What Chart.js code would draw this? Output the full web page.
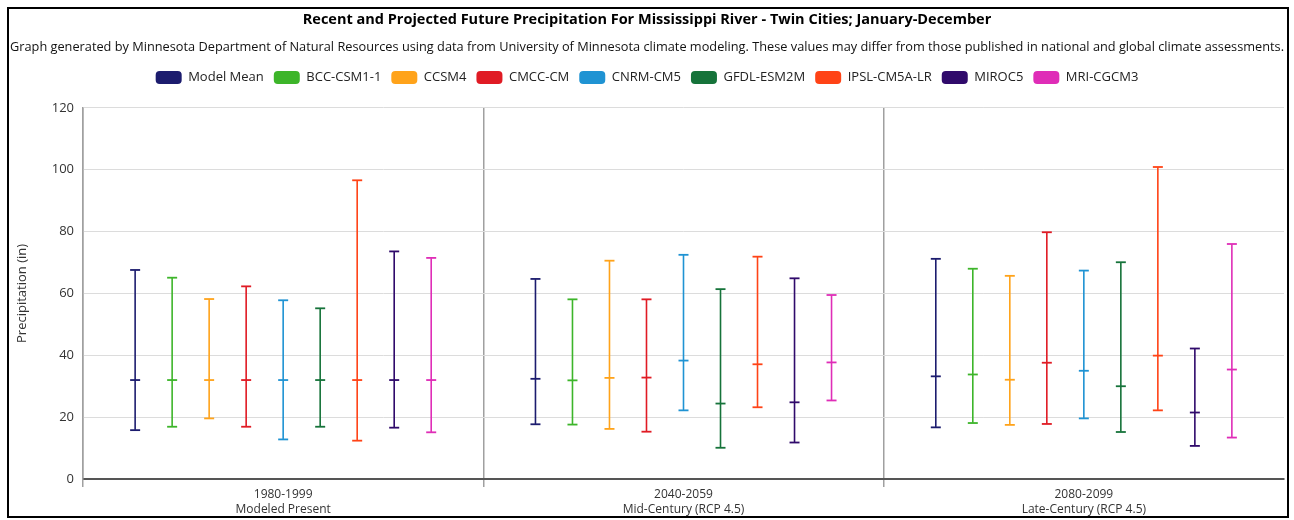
<!DOCTYPE html>
<html><head><meta charset="utf-8">
<script src="https://cdn.jsdelivr.net/npm/chart.js@4"></script>
<style>
html,body{margin:0;padding:0;background:#fff;}
#wrap{position:relative;width:1294px;height:520px;overflow:hidden;}
#frame{position:absolute;left:7px;top:7px;width:1282px;height:511px;border:2px solid #000;box-sizing:border-box;pointer-events:none;}
canvas{position:absolute;left:0;top:0;}
</style></head>
<body><div id="wrap"><canvas id="c" width="1294" height="520"></canvas><div id="frame"></div></div>
<script>
const periods = [['1980-1999','Modeled Present'],['2040-2059','Mid-Century (RCP 4.5)'],['2080-2099','Late-Century (RCP 4.5)']];
const models = ['Model Mean','BCC-CSM1-1','CCSM4','CMCC-CM','CNRM-CM5','GFDL-ESM2M','IPSL-CM5A-LR','MIROC5','MRI-CGCM3'];
const colors = ['#1c1c6e','#3db52a','#ffa31a','#e01b24','#1f93d3','#16733a','#ff4316','#300a6b','#df2db7'];
// one value per model, in the order of `models`
const low1980  = [15.8,16.9,19.6,16.9,12.8,16.9,12.4,16.6,15.1];
const mean1980 = [32.0,32.0,32.0,32.0,32.0,32.0,32.0,32.0,32.0];
const high1980 = [67.6,65.1,58.2,62.3,57.8,55.2,96.6,73.6,71.5];
const low2040  = [17.7,17.6,16.2,15.3,22.2,10.1,23.2,11.8,25.4];
const mean2040 = [32.4,31.9,32.7,32.8,38.3,24.4,37.1,24.8,37.7];
const high2040 = [64.7,58.1,70.6,58.1,72.5,61.4,71.9,64.9,59.5];
const low2080  = [16.7,18.1,17.5,17.8,19.6,15.2,22.2,10.7,13.4];
const mean2080 = [33.2,33.8,32.1,37.6,35.0,30.0,39.9,21.5,35.4];
const high2080 = [71.2,68.0,65.7,79.8,67.4,70.1,100.9,42.2,76.0];
const yTicks = [0,20,40,60,80,100,120];

const lows = [low1980, low2040, low2080];
const means = [mean1980, mean2040, mean2080];
const highs = [high1980, high2040, high2080];

const datasets = models.map((m, i) => ({
  label: m,
  data: periods.map((p, j) => [lows[j][i], highs[j][i]]),
  means: periods.map((p, j) => means[j][i]),
  backgroundColor: colors[i],
  borderColor: colors[i],
  borderWidth: 0,
  borderRadius: 4,
  borderSkipped: false,
  maxBarThickness: 1.6,
  categoryPercentage: 0.832,
  barPercentage: 1
}));

const capPlugin = {
  id: 'caps',
  beforeInit(chart) {
    const lg = chart.legend;
    const origFit = lg.fit;
    lg.fit = function () { origFit.call(this); this.height += 14; };
  },
  afterDatasetsDraw(chart) {
    const ctx = chart.ctx, ys = chart.scales.y;
    chart.data.datasets.forEach((ds, i) => {
      const meta = chart.getDatasetMeta(i);
      if (meta.hidden) return;
      meta.data.forEach((bar, j) => {
        const x = bar.x;
        const vals = [ds.data[j][0], ds.means[j], ds.data[j][1]];
        ctx.save();
        ctx.strokeStyle = ds.borderColor;
        ctx.lineWidth = 1.8;
        vals.forEach(v => {
          const py = ys.getPixelForValue(v);
          ctx.beginPath(); ctx.moveTo(x - 5, py); ctx.lineTo(x + 5, py); ctx.stroke();
        });
        ctx.restore();
      });
    });
  }
};

Chart.defaults.font.family = "'Open Sans', 'Noto Sans', sans-serif";
new Chart(document.getElementById('c'), {
  type: 'bar',
  data: { labels: periods, datasets },
  options: {
    responsive: false,
    animation: false,
    devicePixelRatio: 1,
    layout: { padding: { top: 10, left: 10, right: 10, bottom: 3 } },
    plugins: {
      title: { display: true, text: 'Recent and Projected Future Precipitation For Mississippi River - Twin Cities; January-December',
        color: '#000', font: { size: 14.5, weight: 'bold' }, padding: { top: 1, bottom: 11 } },
      subtitle: { display: true, text: 'Graph generated by Minnesota Department of Natural Resources using data from University of Minnesota climate modeling. These values may differ from those published in national and global climate assessments.',
        color: '#111', font: { size: 12.95 }, padding: { top: 0, bottom: 6 } },
      legend: { position: 'top', align: 'center',
        labels: { boxWidth: 26, boxHeight: 13, useBorderRadius: true, borderRadius: 4, padding: 10, color: '#222', font: { size: 13 } } },
      tooltip: { enabled: false }
    },
    scales: {
      x: {
        grid: { offset: true, color: c => c.type === 'tick' ? '#a0a0a0' : 'rgba(0,0,0,0)', lineWidth: 1.5, tickLength: 8, drawOnChartArea: true },
        border: { color: '#555', width: 2 },
        ticks: { color: '#333', padding: 0, font: { size: 12, lineHeight: 1.25 }, maxRotation: 0 }
      },
      y: {
        min: 0, max: 120,
        afterFit: s => { s.width = 73; },
        afterBuildTicks: s => { s.ticks = yTicks.map(v => ({ value: v })); },
        grid: { color: '#dcdcdc', drawTicks: false },
        border: { color: '#a0a0a0', width: 1.5 },
        ticks: { color: '#333', padding: 9, font: { size: 13 } },
        title: { display: true, text: 'Precipitation (in)', color: '#333', font: { size: 13 }, padding: { top: 4, bottom: 0 } }
      }
    }
  },
  plugins: [capPlugin]
});
</script>
</body></html>
